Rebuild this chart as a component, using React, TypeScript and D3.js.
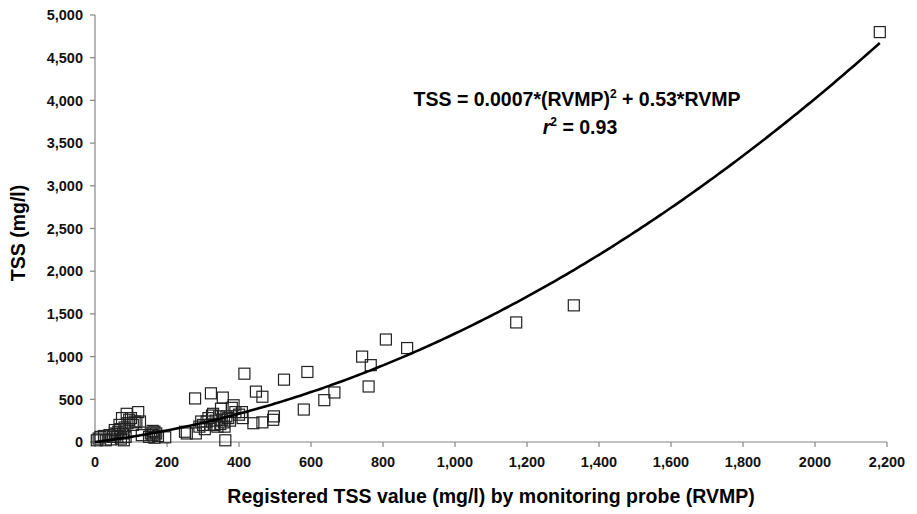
import React from "react";
import * as d3 from "d3";

const xTicks = [0, 200, 400, 600, 800, 1000, 1200, 1400, 1600, 1800, 2000, 2200];
const yTicks = [0, 500, 1000, 1500, 2000, 2500, 3000, 3500, 4000, 4500, 5000];
const xTickLabels = ["0", "200", "400", "600", "800", "1,000", "1,200", "1,400", "1,600", "1,800", "2000", "2,200"];
const yTickLabels = ["0", "500", "1,000", "1,500", "2,000", "2,500", "3,000", "3,500", "4,000", "4,500", "5,000"];

// Registered TSS value (RVMP) observations
const rvmp = [
  5, 10, 15, 25, 30, 40, 45, 50, 55, 55, 60, 62, 65, 68, 70, 72, 75, 78, 80, 82, 85, 88, 90, 95, 100, 105, 110, 115, 120, 125, 130,
  150, 155, 160, 160, 165, 165, 170, 175, 195,
  250, 255, 280, 278, 290, 295, 300, 305, 310, 315, 320, 322, 325, 328, 330, 332, 335, 340, 345, 348, 350, 352, 355, 358, 360, 362,
  365, 370, 375, 380, 385, 390, 400, 408, 410, 415, 440, 447, 465, 465, 495, 497, 525, 580, 590, 637, 665, 742, 760, 766, 808, 867,
  1170, 1330, 2180,
];
// Measured TSS (mg/l)
const tss = [
  20, 40, 60, 70, 20, 80, 30, 60, 140, 100, 90, 60, 120, 200, 150, 40, 280, 100, 20, 170, 60, 330, 220, 260, 280, 200, 240, 230, 350, 240, 80,
  60, 100, 80, 130, 50, 120, 100, 70, 55,
  120, 100, 100, 510, 180, 240, 200, 150, 240, 280, 200, 570, 310, 330, 200, 200, 250, 180, 300, 210, 390, 260, 520, 230, 180, 20,
  300, 280, 250, 400, 430, 350, 320, 350, 280, 800, 220, 590, 230, 530, 260, 300, 730, 380, 820, 490, 580, 1000, 650, 900, 1200, 1100,
  1400, 1600, 4800,
];

// Fitted curve coefficients (TSS = a*RVMP^2 + b*RVMP) and range
const fitA = 0.00074;
const fitB = 0.53;
const fitRange = [0, 2180];

export default function App() {
  const W = 917, H = 514;
  const x = d3.scaleLinear().domain([0, 2200]).range([95, 887]);
  const y = d3.scaleLinear().domain([0, 5000]).range([442, 15]);
  const axisColor = "#858585";
  const font = "'Liberation Sans', Arial, Helvetica, sans-serif";

  const curvePts: [number, number][] = d3
    .range(fitRange[0], fitRange[1] + 1, 10)
    .map((v) => [v, fitA * v * v + fitB * v]);
  const line = d3
    .line<[number, number]>()
    .x((d) => x(d[0]))
    .y((d) => y(d[1]));

  const sq = 11;

  return (
    <svg width={W} height={H} style={{ position: "absolute", left: 0, top: 0, background: "#fff" }}>
      {/* y axis */}
      <line x1={x(0)} x2={x(0)} y1={y(5000)} y2={y(0)} stroke={axisColor} strokeWidth={1.2} />
      {yTicks.map((t, i) => (
        <g key={"yt" + t}>
          <line x1={x(0) - 5} x2={x(0)} y1={y(t)} y2={y(t)} stroke={axisColor} strokeWidth={1.2} />
          <text
            x={x(0) - 12}
            y={y(t)}
            dy="0.36em"
            textAnchor="end"
            fontFamily={font}
            fontWeight="bold"
            fontSize={14.5}
            fill="#111"
          >
            {yTickLabels[i]}
          </text>
        </g>
      ))}
      {/* x axis */}
      <line x1={x(0)} x2={x(2200)} y1={y(0)} y2={y(0)} stroke={axisColor} strokeWidth={1.2} />
      {xTicks.map((t, i) => (
        <g key={"xt" + t}>
          <line x1={x(t)} x2={x(t)} y1={y(0)} y2={y(0) + 5} stroke={axisColor} strokeWidth={1.2} />
          <text
            x={x(t)}
            y={y(0) + 25}
            textAnchor="middle"
            fontFamily={font}
            fontWeight="bold"
            fontSize={14.5}
            fill="#111"
          >
            {xTickLabels[i]}
          </text>
        </g>
      ))}
      {/* points */}
      {rvmp.map((v, i) => (
        <rect
          key={"p" + i}
          x={x(v) - sq / 2}
          y={y(tss[i]) - sq / 2}
          width={sq}
          height={sq}
          fill="none"
          stroke="#222"
          strokeWidth={1.2}
        />
      ))}
      {/* fitted curve */}
      <path d={line(curvePts) || ""} fill="none" stroke="#000" strokeWidth={2.6} />
      {/* equation */}
      <text x={577} y={106} textAnchor="middle" fontFamily={font} fontWeight="bold" fontSize={19.5} fill="#000">
        TSS = 0.0007*(RVMP)
        <tspan dy={-8} fontSize={12}>2</tspan>
        <tspan dy={8}> + 0.53*RVMP</tspan>
      </text>
      <text x={580} y={134} textAnchor="middle" fontFamily={font} fontWeight="bold" fontSize={19.5} fill="#000">
        <tspan fontStyle="italic">r</tspan>
        <tspan dy={-8} fontSize={12}>2</tspan>
        <tspan dy={8}> = 0.93</tspan>
      </text>
      {/* axis titles */}
      <text x={491} y={503} textAnchor="middle" fontFamily={font} fontWeight="bold" fontSize={19.5} fill="#000">
        Registered TSS value (mg/l) by monitoring probe (RVMP)
      </text>
      <text
        transform={`translate(25, ${233}) rotate(-90)`}
        textAnchor="middle"
        fontFamily={font}
        fontWeight="bold"
        fontSize={19.5}
        fill="#000"
      >
        TSS (mg/l)
      </text>
    </svg>
  );
}
